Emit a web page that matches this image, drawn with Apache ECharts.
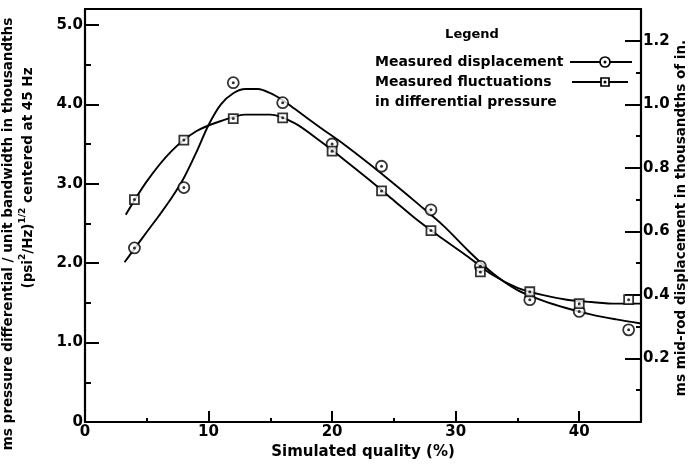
<!DOCTYPE html>
<html>
<head>
<meta charset="utf-8">
<script src="https://cdn.jsdelivr.net/npm/echarts@6/dist/echarts.min.js"></script>
<style>
html,body{margin:0;padding:0;background:#fff;}
#chart{width:693px;height:466px;}
</style>
</head>
<body>
<div id="chart"></div>
<script>
// Measured qualities (%)
const quality = [4, 8, 12, 16, 20, 24, 28, 32, 36, 40, 44];
// Measured displacement (thousandths of in., right axis)
const displacement = [0.548, 0.738, 1.068, 1.005, 0.875, 0.805, 0.668, 0.49, 0.385, 0.348, 0.29];
// Measured fluctuations in differential pressure (left axis)
const pressure = [2.80, 3.55, 3.82, 3.83, 3.41, 2.91, 2.41, 1.89, 1.64, 1.49, 1.54];
// Fitted curve through displacement (right-axis units)
const dispCurveX = [3.2, 4, 5, 6, 7, 8, 9, 10, 11, 12, 13, 14, 15, 16, 17, 19, 21, 23, 25, 27, 29, 31, 33, 35, 37, 39, 41, 43, 45];
const dispCurveY = [0.503, 0.545, 0.598, 0.65, 0.705, 0.768, 0.848, 0.935, 1.0, 1.035, 1.048, 1.048, 1.035, 1.013, 0.985, 0.928, 0.873, 0.813, 0.75, 0.685, 0.618, 0.54, 0.468, 0.415, 0.383, 0.358, 0.338, 0.323, 0.31];
// Fitted curve through pressure (left-axis units)
const presCurveX = [3.3, 5, 7, 9, 11, 13, 15, 17, 19, 21, 23, 25, 27, 29, 31, 33, 35, 37, 39, 41, 43, 45];
const presCurveY = [2.61, 3.03, 3.41, 3.66, 3.79, 3.87, 3.87, 3.76, 3.54, 3.30, 3.05, 2.79, 2.53, 2.30, 2.08, 1.85, 1.69, 1.60, 1.54, 1.51, 1.49, 1.49];

const FONT = 'DejaVu Sans';
const zip = (a, b) => a.map((v, i) => [v, b[i]]);

const chart = echarts.init(document.getElementById('chart'));
const labelStyle = {color: '#000', fontFamily: FONT, fontWeight: 'bold', fontSize: 15};

chart.setOption({
  animation: false,
  backgroundColor: '#fff',
  grid: {left: 85, right: 52, top: 9, bottom: 44, show: true, borderColor: '#000', borderWidth: 2, backgroundColor: 'transparent'},
  xAxis: {
    type: 'value', min: 0, max: 45, interval: 10,
    name: 'Simulated quality (%)', nameLocation: 'middle', nameGap: 20,
    nameTextStyle: {color: '#000', fontFamily: FONT, fontWeight: 'bold', fontSize: 15},
    axisLine: {lineStyle: {color: '#000', width: 2.2}},
    axisTick: {inside: true, length: 11, lineStyle: {color: '#000', width: 2}},
    minorTick: {show: true, splitNumber: 2, length: 4, lineStyle: {color: '#000', width: 2}},
    splitLine: {show: false},
    axisLabel: Object.assign({margin: 3, formatter: v => (v % 10 === 0 ? String(v) : '')}, labelStyle)
  },
  yAxis: [{
    type: 'value', min: 0, max: 5.2, interval: 1, position: 'left',
    axisLine: {lineStyle: {color: '#000', width: 2.2}},
    axisTick: {inside: true, length: 14, lineStyle: {color: '#000', width: 2}},
    minorTick: {show: true, splitNumber: 2, length: 6, lineStyle: {color: '#000', width: 2}},
    splitLine: {show: false},
    axisLabel: Object.assign({margin: 2, formatter: v => {
      if (v === 0) return '0';
      return Math.abs(v - Math.round(v)) < 1e-6 ? v.toFixed(1) : '';
    }}, labelStyle)
  }, {
    type: 'value', min: 0, max: 1.3, interval: 0.2, position: 'right',
    axisLine: {show: true, lineStyle: {color: '#000', width: 2.2}},
    axisTick: {inside: true, length: 16, lineStyle: {color: '#000', width: 2}},
    minorTick: {show: true, splitNumber: 2, length: 5, lineStyle: {color: '#000', width: 2}},
    splitLine: {show: false},
    axisLabel: Object.assign({margin: 2, formatter: v => {
      if (v === 0) return '';
      return Math.abs(v * 5 - Math.round(v * 5)) < 1e-6 ? v.toFixed(1) : '';
    }}, labelStyle)
  }],
  series: [
    {type: 'line', yAxisIndex: 1, data: zip(dispCurveX, dispCurveY), smooth: 0.3, showSymbol: false, lineStyle: {color: '#000', width: 1.9}, z: 2},
    {type: 'line', yAxisIndex: 0, data: zip(presCurveX, presCurveY), smooth: 0.3, showSymbol: false, lineStyle: {color: '#000', width: 1.9}, z: 2},
    {type: 'scatter', yAxisIndex: 1, data: zip(quality, displacement), symbol: 'circle', symbolSize: 11, itemStyle: {color: '#fff', borderColor: '#000', borderWidth: 1.8}, z: 3},
    {type: 'scatter', yAxisIndex: 1, data: zip(quality, displacement), symbol: 'circle', symbolSize: 3, itemStyle: {color: '#000'}, z: 4},
    {type: 'scatter', yAxisIndex: 0, data: zip(quality, pressure), symbol: 'rect', symbolSize: 9, itemStyle: {color: '#fff', borderColor: '#000', borderWidth: 1.8}, z: 3},
    {type: 'scatter', yAxisIndex: 0, data: zip(quality, pressure), symbol: 'circle', symbolSize: 3, itemStyle: {color: '#000'}, z: 4}
  ],
  graphic: [
    {type: 'text', x: 8, y: 234, rotation: Math.PI / 2, style: {text: 'ms pressure differential / unit bandwidth in thousandths', font: 'bold 13.5px ' + FONT, fill: '#000', align: 'center', verticalAlign: 'middle'}},
    {type: 'text', x: 27, y: 178, rotation: Math.PI / 2, style: {
      text: '{n|(psi}{s|2}{n|/Hz)}{s|1/2}{n| centered at 45 Hz}',
      align: 'center', verticalAlign: 'middle',
      rich: {n: {font: 'bold 13.5px ' + FONT, fill: '#000', lineHeight: 17, verticalAlign: 'bottom'}, s: {font: 'bold 9px ' + FONT, fill: '#000', lineHeight: 17, verticalAlign: 'top'}}
    }},
    {type: 'text', x: 681, y: 218, rotation: Math.PI / 2, style: {text: 'ms mid-rod displacement in thousandths of in.', font: 'bold 13.5px ' + FONT, fill: '#000', align: 'center', verticalAlign: 'middle'}},
    {type: 'text', x: 472, y: 35, style: {text: 'Legend', font: 'bold 13px ' + FONT, fill: '#000', align: 'center', verticalAlign: 'middle'}},
    {type: 'text', x: 375, y: 62, style: {text: 'Measured displacement', font: 'bold 14px ' + FONT, fill: '#000', align: 'left', verticalAlign: 'middle'}},
    {type: 'text', x: 375, y: 82, style: {text: 'Measured fluctuations', font: 'bold 14px ' + FONT, fill: '#000', align: 'left', verticalAlign: 'middle'}},
    {type: 'text', x: 375, y: 102, style: {text: 'in differential pressure', font: 'bold 14px ' + FONT, fill: '#000', align: 'left', verticalAlign: 'middle'}},
    {type: 'line', shape: {x1: 570, y1: 62, x2: 632, y2: 62}, style: {stroke: '#000', lineWidth: 1.9}},
    {type: 'circle', shape: {cx: 605, cy: 62, r: 5}, style: {fill: '#fff', stroke: '#000', lineWidth: 1.7}},
    {type: 'circle', shape: {cx: 605, cy: 62, r: 1.5}, style: {fill: '#000'}},
    {type: 'line', shape: {x1: 572, y1: 82, x2: 628, y2: 82}, style: {stroke: '#000', lineWidth: 1.9}},
    {type: 'rect', shape: {x: 601, y: 78, width: 8, height: 8}, style: {fill: '#fff', stroke: '#000', lineWidth: 1.7}},
    {type: 'circle', shape: {cx: 605, cy: 82, r: 1.5}, style: {fill: '#000'}}
  ]
});
</script>
</body>
</html>
